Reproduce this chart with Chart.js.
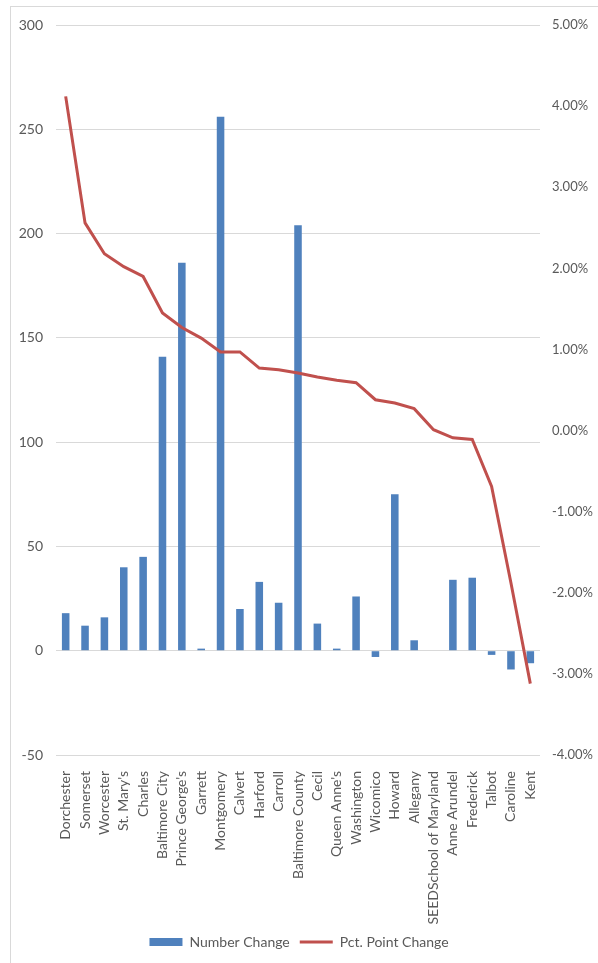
<!DOCTYPE html>
<html>
<head>
<meta charset="utf-8">
<script src="https://cdn.jsdelivr.net/npm/chart.js@4"></script>
<style>
  body { margin: 0; background: #fff; overflow: hidden; }
  #frame { position: absolute; left: 10px; top: 6px; width: 620px; height: 990px; border: 1px solid #d9d9d9; }
  #wrap { position: absolute; left: 0; top: 0; width: 598px; height: 963px; }
</style>
</head>
<body>
<div id="frame"></div>
<div id="wrap"><canvas id="myChart" width="598" height="963"></canvas></div>
<script>
/* counties, in the order of the chart */
let counties = ['Dorchester', 'Somerset', 'Worcester', "St. Mary's", 'Charles', 'Baltimore City',
    "Prince George's", 'Garrett', 'Montgomery', 'Calvert', 'Harford', 'Carroll', 'Baltimore County',
    'Cecil', "Queen Anne's", 'Washington', 'Wicomico', 'Howard', 'Allegany', 'SEEDSchool of Maryland',
    'Anne Arundel', 'Frederick', 'Talbot', 'Caroline', 'Kent'];
let numberChange = [18, 12, 16, 40, 45, 141, 186, 1, 256, 20, 33, 23, 204,
    13, 1, 26, -3, 75, 5, 0, 34, 35, -2, -9, -6];
/* percentage points */
let pctPointChange = [4.12, 2.56, 2.18, 2.02, 1.90, 1.45, 1.27, 1.14, 0.97, 0.97, 0.77, 0.75, 0.71,
    0.66, 0.62, 0.59, 0.38, 0.34, 0.27, 0.01, -0.09, -0.11, -0.69, -1.88, -3.12];
let leftTicks = { min: -50, max: 300, step: 50 };
let rightTicks = { min: -4, max: 5, step: 1 };

let grey = '#595959';
let font = { family: 'Lato, "Noto Sans", sans-serif', size: 14 };
let smallFont = { family: 'Lato, "Noto Sans", sans-serif', size: 13 };

let config = {
    type: 'bar',
    data: {
        labels: counties,
        datasets: [{
            label: 'Number Change',
            data: numberChange,
            backgroundColor: '#4f81bd',
            borderWidth: 0,
            barPercentage: 0.39,
            categoryPercentage: 1,
            yAxisID: 'y',
            pointStyle: 'rect',
            order: 2
        }, {
            type: 'line',
            label: 'Pct. Point Change',
            data: pctPointChange,
            borderColor: '#c0504d',
            backgroundColor: '#c0504d',
            borderWidth: 3,
            pointRadius: 0,
            tension: 0,
            yAxisID: 'y1',
            pointStyle: 'line',
            order: 1
        }]
    },
    options: {
        responsive: false,
        animation: false,
        layout: { padding: { top: 25, bottom: 4, left: 0, right: 0 } },
        plugins: {
            tooltip: { enabled: false },
            legend: {
                position: 'bottom',
                labels: {
                    usePointStyle: true,
                    pointStyleWidth: 33,
                    boxHeight: 8,
                    padding: 10,
                    color: grey,
                    font: font,
                    sort: (a, b) => a.datasetIndex - b.datasetIndex
                }
            }
        },
        scales: {
            x: {
                grid: { display: false },
                border: { display: false },
                ticks: { color: grey, font: font, minRotation: 90, maxRotation: 90, padding: 8, autoSkip: false },
                afterFit: (s) => { s.height = 170; }
            },
            y: {
                position: 'left',
                min: leftTicks.min,
                max: leftTicks.max,
                grid: { color: '#d9d9d9', drawTicks: false },
                border: { display: false },
                ticks: { stepSize: leftTicks.step, color: grey, font: font, padding: 13 },
                afterFit: (s) => { s.width = 56; }
            },
            y1: {
                position: 'right',
                min: rightTicks.min,
                max: rightTicks.max,
                grid: { display: false, drawTicks: false },
                border: { display: false },
                ticks: {
                    stepSize: rightTicks.step, color: grey, font: smallFont, padding: 12,
                    callback: (v) => v.toFixed(2) + '%'
                },
                afterFit: (s) => { s.width = 58; }
            }
        }
    }
};

let myChart = new Chart(document.getElementById('myChart'), config);
</script>
</body>
</html>
